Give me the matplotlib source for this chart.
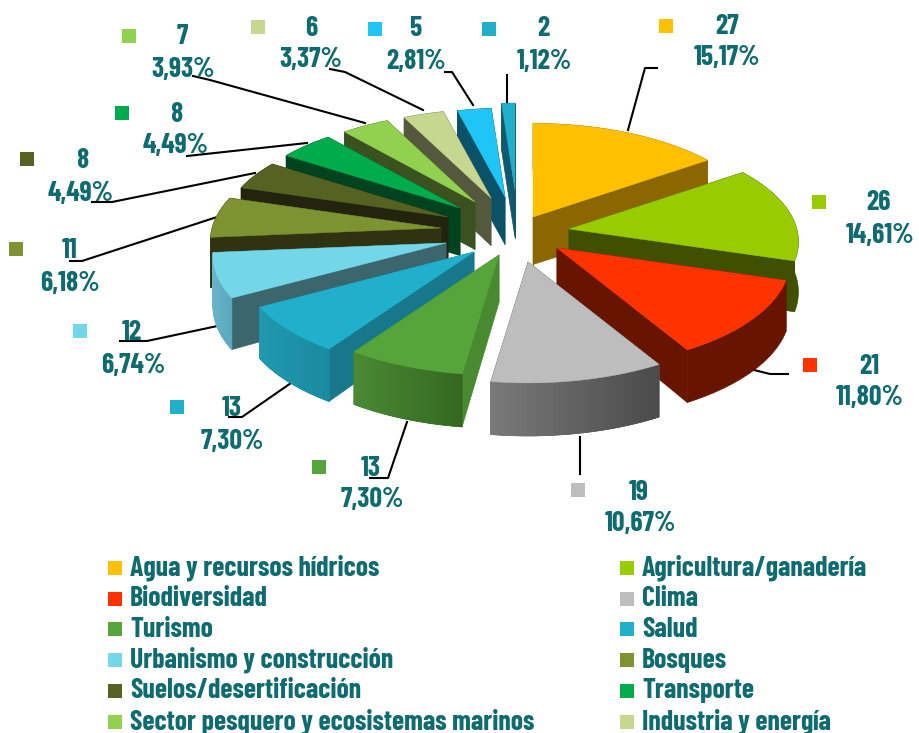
import numpy as np
import matplotlib
matplotlib.use('Agg')
import matplotlib.pyplot as plt
from matplotlib.colors import to_rgb

# Data
values = [27, 26, 21, 19, 13, 13, 12, 11, 8, 8, 7, 6, 5, 2]
legend_names = ['Agua y recursos hídricos', 'Agricultura/ganadería', 'Biodiversidad', 'Clima',
                'Turismo', 'Salud', 'Urbanismo y construcción', 'Bosques',
                'Suelos/desertificación', 'Transporte',
                'Sector pesquero y ecosistemas marinos', 'Industria y energía']

# Colours per slice
top_colors = ['#ffc000', '#99cc00', '#ff3300', '#bdbdbd', '#55a53a', '#21b0cb', '#74d7e8',
              '#7d9230', '#556322', '#00ab4c', '#92d050', '#c6d88f', '#1fc6f5', '#21afca']
side_colors = ['#8c6700', '#3f5000', '#671500', '#555555', '#478a30', '#17788c', '#3b666e',
               '#2f330f', '#22240d', '#00431f', '#3b5120', '#54583c', '#0b5268', '#0f5a6c']
rim_left = ['#8c6700', '#3f5000', '#671500', '#7a7a7a', '#4a8a35', '#2199b0', '#68b4c8',
            '#2f330f', '#22240d', '#00431f', '#3b5120', '#54583c', '#0b5268', '#0f5a6c']
rim_right = ['#8c6700', '#3f5000', '#671500', '#4a4a4a', '#346820', '#1a8aa0', '#5aa8bc',
             '#2f330f', '#22240d', '#00431f', '#3b5120', '#54583c', '#0b5268', '#0f5a6c']

# Layout of the exploded pie, in pixels
cx, cy = 515, 243
Rx, Ry, persp = 236, 108, 0.12
explode_x = [18, 54, 42, 13, -16, -41, -69, -74, -67, -55, -40, -24, -10, 0]
explode_y = [-26, -14, 5, 19, 12, 9, 0, -15, -26, -35, -41, -45, -46, -53]
size_mult = [.97, .965, .98, .985, .98, .98, .98, .97, .95, .94, .93, .92, .92, .90]
draw_order = [13, 12, 11, 10, 9, 8, 7, 6, 5, 4, 0, 1, 2, 3]

# Label positions: (count x, count y, percent x, percent y, marker x, marker y)
label_pos = [(727, 27, 727, 58, 666, 26), (879, 203, 880, 235, 819, 202),
             (869, 367, 870, 398, 810, 365), (639, 492, 640, 524, 578, 490),
             (371, 468, 372, 500, 319, 467), (232, 408, 232, 441, 177, 407),
             (132, 333, 133, 365, 80, 331), (70, 251, 70, 283, 16, 249),
             (82, 161, 81, 193, 27, 159), (176, 115, 176, 146, 122, 113),
             (182, 37, 183, 69, 129, 36), (311, 29, 311, 60, 258, 27),
             (415, 29, 416, 61, 375, 29), (543, 29, 544, 61, 489, 29)]
leaders = [[(657, 68), (645, 68), (628, 130)], [], [(788, 374), (770, 374), (750, 369)],
           [(580, 474), (580, 437)], [(370, 478), (388, 478), (407, 422)],
           [(229, 417), (242, 417), (291, 383)], [(120, 341), (147, 341), (222, 325)],
           [(70, 261), (82, 261), (217, 217)], [(92, 202), (112, 202), (255, 173)],
           [(187, 156), (307, 143)], [(193, 76), (210, 80), (365, 123)],
           [(330, 69), (345, 72), (423, 110)], [(445, 72), (452, 72), (473, 105)],
           [(507, 75), (507, 104)]]

TEXT = '#0e6b6f'
FONT = ['Barlow Condensed', 'Asap Condensed', 'DejaVu Sans']

fig = plt.figure(figsize=(9.2, 7.33), dpi=100)
ax = fig.add_axes([0, 0, 1, 1])
ax.set_xlim(0, 920)
ax.set_ylim(733, 0)
ax.axis('off')

total = sum(values)
edges = np.cumsum([0] + values) / total * 2 * np.pi


def rim_xy(i, th):
    s = 1 / (1 + persp * np.cos(th))
    return (cx + explode_x[i] + size_mult[i] * Rx * np.sin(th) * s,
            cy + explode_y[i] - size_mult[i] * Ry * np.cos(th) * s)


def depth(th):
    return 50 * (1 - 0.06 * np.cos(th))


def mix(c1, c2, t):
    a, b = np.array(to_rgb(c1)), np.array(to_rgb(c2))
    return tuple(a + (b - a) * t)


# Leader lines go under the pie
for pts in leaders:
    if pts:
        ax.plot([p[0] for p in pts], [p[1] for p in pts], color='black', lw=1.5, zorder=1,
                solid_joinstyle='round')

z = 2
for i in draw_order:
    t = np.linspace(edges[i], edges[i + 1], 40)
    rx, ry = rim_xy(i, t)
    ax0, ay0 = cx + explode_x[i], cy + explode_y[i]
    d_apex = depth(np.pi / 2) * 0.95
    d_rim = depth(t)

    # radial side faces, the one further back first
    faces = []
    for k in (0, -1):
        qx = [ax0, rx[k], rx[k], ax0]
        qy = [ay0, ry[k], ry[k] + d_rim[k], ay0 + d_apex]
        faces.append((np.mean(qy), qx, qy))
    faces.sort(key=lambda f: f[0])
    for f in faces:
        ax.fill(f[1], f[2], color=side_colors[i], lw=0.5, zorder=z)
        z += 1

    # curved outer face: a base in the middle colour, then the left to right shading
    ax.fill(np.r_[rx, rx[::-1]], np.r_[ry, (ry + d_rim)[::-1]],
            color=mix(rim_left[i], rim_right[i], 0.5), lw=0.5, zorder=z)
    z += 1
    if rim_left[i] != rim_right[i]:
        x_lo, x_hi = rx.min(), rx.max()
        for j in range(len(t) - 1):
            col = mix(rim_left[i], rim_right[i], ((rx[j] + rx[j + 1]) / 2 - x_lo) / (x_hi - x_lo))
            ax.fill([rx[j], rx[j + 1], rx[j + 1], rx[j]],
                    [ry[j], ry[j + 1], ry[j + 1] + d_rim[j + 1], ry[j] + d_rim[j]],
                    color=col, lw=0.5, zorder=z)
        z += 1

    # top of the slice
    ax.fill(np.r_[ax0, rx], np.r_[ay0, ry], color=top_colors[i], lw=0.3, zorder=z)
    z += 1

# Slice labels
for v, col, pos in zip(values, top_colors, label_pos):
    pct = f'{v / total * 100:.2f}'.replace('.', ',')
    ax.text(pos[0], pos[1], str(v), color=TEXT, fontsize=20, fontweight='bold', family=FONT,
            ha='center', va='center', zorder=z)
    ax.text(pos[2], pos[3], pct + '%', color=TEXT, fontsize=20, fontweight='bold', family=FONT,
            ha='center', va='center', zorder=z)
    ax.scatter(pos[4], pos[5], marker='s', s=115, color=col, lw=0, zorder=z)

# Legend, two columns
for n, name in enumerate(legend_names):
    row = n // 2
    x0 = 115.5 if n % 2 == 0 else 627.5
    y0 = 568 + row * 30.7
    ax.scatter(x0, y0, marker='s', s=115, color=top_colors[n], lw=0, zorder=z)
    ax.text(x0 + 14.5, y0, name, color=TEXT, fontsize=20, fontweight='bold', family=FONT,
            ha='left', va='center', zorder=z)

fig.savefig('out.png', dpi=100)
